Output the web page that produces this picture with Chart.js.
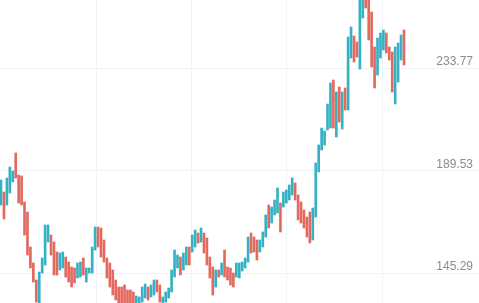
<!DOCTYPE html>
<html>
<head>
<meta charset="utf-8">
<script src="https://cdn.jsdelivr.net/npm/chart.js@4/dist/chart.umd.min.js"></script>
<style>
    html, body { margin: 0; padding: 0; background: #ffffff; }
    canvas { display: block; }
</style>
</head>
<body>
<canvas id="priceChart" width="479" height="303"></canvas>
<script>
// high / low of each bar
const highs = [
    185.43, 180.25, 186.30, 191.04, 189.32, 197.09, 187.59, 187.16, 175.94, 171.62,
    156.52, 149.61, 142.27, 145.72, 151.77, 166.01, 166.01, 161.69, 158.67, 154.36,
    153.93, 154.36, 152.20, 150.04, 147.88, 147.45, 149.61, 150.04, 151.77, 147.45,
    147.45, 156.52, 165.14, 165.14, 164.71, 159.54, 151.77, 149.61, 146.59, 142.27,
    139.25, 139.25, 140.11, 137.96, 137.96, 137.09, 135.37, 134.94, 139.25, 140.55,
    139.25, 140.11, 142.27, 142.27, 140.11, 134.94, 137.09, 138.82, 146.59, 155.22,
    153.06, 152.20, 153.93, 156.52, 156.52, 161.69, 163.85, 162.56, 164.71, 162.56,
    160.40, 152.20, 147.88, 146.59, 146.59, 149.61, 155.22, 147.88, 147.45, 145.29,
    149.61, 149.61, 150.04, 151.77, 160.83, 162.56, 160.83, 159.54, 159.54, 163.03,
    170.33, 174.64, 173.78, 176.80, 181.98, 175.50, 180.25, 181.12, 183.27, 186.30,
    184.14, 178.96, 175.94, 172.49, 169.46, 171.62, 173.35, 192.77, 200.54, 207.87,
    206.58, 218.23, 227.30, 228.59, 223.41, 225.57, 223.41, 225.14, 247.15, 251.47,
    247.58, 244.99, 265.00, 265.00, 265.00, 263.50, 257.94, 242.83, 246.72, 248.88,
    250.17, 248.88, 242.83, 240.68, 242.83, 244.56, 248.01, 250.17
];

const lows = [
    174.64, 168.60, 174.64, 179.82, 184.57, 186.30, 175.50, 174.64, 161.69, 153.06,
    147.45, 141.41, 132.78, 131.00, 145.29, 148.75, 158.67, 153.06, 144.43, 144.43,
    146.59, 147.45, 143.57, 141.41, 139.25, 140.98, 143.14, 143.57, 144.43, 141.41,
    145.29, 145.29, 155.22, 156.52, 152.20, 150.04, 143.14, 139.25, 135.80, 133.64,
    131.50, 131.50, 131.50, 131.50, 131.50, 131.00, 130.00, 131.00, 132.78, 134.50,
    133.64, 134.94, 135.80, 137.09, 132.78, 131.00, 132.78, 134.50, 137.09, 143.57,
    147.45, 144.43, 146.59, 148.75, 148.75, 154.36, 156.52, 158.24, 158.67, 153.93,
    148.75, 143.14, 135.80, 139.25, 143.57, 144.43, 143.57, 142.27, 140.11, 139.25,
    143.57, 143.14, 146.16, 147.45, 150.04, 153.93, 154.36, 150.90, 154.36, 156.52,
    160.83, 164.71, 166.87, 170.33, 171.19, 162.99, 173.78, 175.50, 176.80, 178.96,
    176.80, 168.17, 166.87, 164.71, 160.83, 158.24, 159.54, 169.46, 188.89, 198.38,
    200.54, 207.01, 207.87, 207.87, 203.99, 210.47, 207.44, 215.65, 215.65, 238.09,
    236.36, 238.52, 233.34, 255.35, 259.67, 245.86, 234.20, 225.14, 230.75, 238.09,
    241.54, 240.25, 237.22, 223.41, 218.23, 227.73, 237.22, 235.07
];

// 1 = up bar (teal), 0 = down bar (red)
const rising = [
    1, 0, 1, 1, 1, 0, 0, 0, 0, 0,
    0, 0, 0, 1, 1, 1, 1, 0, 0, 0,
    1, 1, 0, 0, 0, 0, 1, 1, 0, 1,
    1, 1, 1, 0, 0, 0, 0, 0, 0, 0,
    0, 0, 0, 0, 0, 0, 1, 1, 1, 1,
    0, 1, 1, 0, 0, 1, 1, 1, 1, 1,
    1, 0, 1, 1, 0, 1, 1, 0, 1, 0,
    0, 0, 0, 1, 0, 1, 0, 0, 0, 0,
    1, 1, 1, 1, 1, 0, 0, 0, 1, 1,
    1, 0, 1, 1, 1, 0, 1, 1, 1, 1,
    0, 0, 0, 0, 0, 0, 1, 1, 1, 1,
    1, 1, 1, 0, 1, 0, 1, 0, 1, 1,
    0, 0, 1, 1, 0, 0, 0, 0, 1, 1,
    1, 0, 0, 0, 1, 1, 1, 0
];

const priceTicks = [145.29, 189.53, 233.77];
const timeGridLines = [32.6, 64.9, 97.2, 129.8];

const upColor = '#35b1c4';
const downColor = '#e3695f';
const gridColor = '#f0f2f5';

function buildBars() {
    return highs.map((high, i) => ({ x: i, y: [lows[i], high] }));
}

function initPriceChart() {
    const ctx = document.getElementById('priceChart');

    new Chart(ctx, {
        type: 'bar',
        data: {
            datasets: [{
                data: buildBars(),
                backgroundColor: rising.map(up => up ? upColor : downColor),
                borderWidth: 0,
                barThickness: 2
            }]
        },
        options: {
            responsive: false,
            animation: false,
            devicePixelRatio: 1,
            layout: { padding: 0 },
            plugins: {
                legend: { display: false },
                tooltip: { enabled: false }
            },
            scales: {
                x: {
                    type: 'linear',
                    offset: false,
                    min: -0.34,
                    max: 162.5,
                    afterBuildTicks: scale => {
                        scale.ticks = timeGridLines.map(value => ({ value }));
                    },
                    ticks: { display: false },
                    border: { display: false },
                    grid: { color: gridColor, drawTicks: false, offset: false }
                },
                y: {
                    position: 'right',
                    min: 132.35,
                    max: 263.12,
                    afterBuildTicks: scale => {
                        scale.ticks = priceTicks.map(value => ({ value }));
                    },
                    // labels sit inside the plot, so the axis takes no room
                    afterFit: scale => {
                        scale.width = 0;
                        scale.paddingTop = 0;
                        scale.paddingBottom = 0;
                    },
                    ticks: {
                        mirror: true,
                        padding: -6,
                        labelOffset: -6,
                        color: '#8b8b8b',
                        font: { family: 'Liberation Sans', size: 12 },
                        callback: value => value.toFixed(2)
                    },
                    border: { display: false },
                    grid: { color: gridColor, drawTicks: false }
                }
            }
        }
    });
}

initPriceChart();
</script>
</body>
</html>
